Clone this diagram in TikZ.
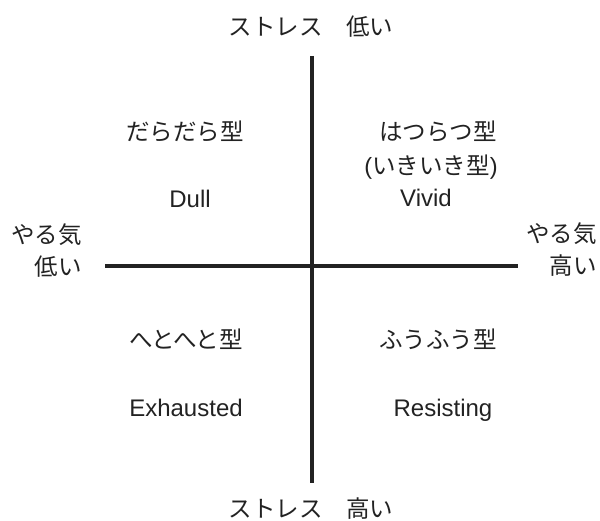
\documentclass[tikz,border=0pt]{standalone}
\usepackage{fontspec}
\setmainfont{Liberation Sans}
\newfontfamily\jp{Noto Sans CJK JP}
\definecolor{ink}{HTML}{222222}
\begin{document}
\begin{tikzpicture}[x=1pt,y=-1pt,
  lbl/.style={inner sep=0pt,text=ink,font=\jp\fontsize{23.5}{28}\selectfont},
  en/.style={inner sep=0pt,text=ink,anchor=base,font=\fontsize{24}{28}\selectfont},
  axis/.style={draw=ink,line width=3.3pt}]
\useasboundingbox (0,0) rectangle (600,521);
\coordinate (vt) at (312,56);
\coordinate (vb) at (312,483);
\coordinate (hl) at (105,266);
\coordinate (hr) at (518,266);
\draw[axis] (vt) -- (vb);
\draw[axis] (hl) -- (hr);
\node[lbl] (top) at (311,27) {ストレス　低い};
\node[lbl] (bot) at (311,509) {ストレス　高い};
\node[lbl,anchor=east] (lm1) at (82,235) {やる気};
\node[lbl,anchor=east] (lm2) at (82,267) {低い};
\node[lbl,anchor=east] (rm1) at (597,234) {やる気};
\node[lbl,anchor=east] (rm2) at (597,266) {高い};
\node[lbl] (q1) at (185,131) {だらだら型};
\node[en] (q1e) at (190,208) {Dull};
\node[lbl] (q2) at (438,131) {はつらつ型};
\node[lbl] (q2b) at (431,167) {\fontspec{Liberation Sans}(\jp いきいき型\fontspec{Liberation Sans})};
\node[en] (q2e) at (426,207) {Vivid};
\node[lbl] (q3) at (186,339) {へとへと型};
\node[en] (q3e) at (186,417) {Exhausted};
\node[lbl] (q4) at (438,339) {ふうふう型};
\node[en] (q4e) at (443,417) {Resisting};
\end{tikzpicture}
\end{document}
